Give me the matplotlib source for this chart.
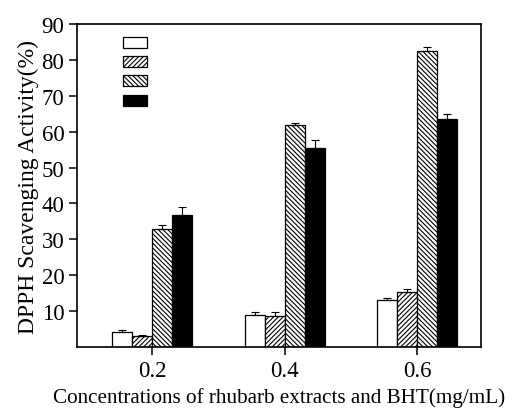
import numpy as np
import matplotlib.pyplot as plt
from matplotlib.patches import Patch

plt.rcParams['font.family'] = ['Liberation Serif', 'DejaVu Serif']
plt.rcParams['hatch.linewidth'] = 0.8

# Данные
concentrations = [0.2, 0.4, 0.6]
series_1 = [4.2, 9.0, 13.2]
series_2 = [3.0, 8.7, 15.3]
series_3 = [33.0, 62.0, 82.5]
series_4 = [36.8, 55.5, 63.5]
err_1 = [0.5, 0.9, 0.5]
err_2 = [0.4, 1.0, 0.8]
err_3 = [1.0, 0.5, 1.0]
err_4 = [2.2, 2.2, 1.5]
y_ticks = [10, 20, 30, 40, 50, 60, 70, 80, 90]

fig = plt.figure(figsize=(5.13, 4.10), dpi=100)
ax = fig.add_axes([0.150, 0.151, 0.788, 0.788])

w = 0.0302
offsets = [-1.5 * w, -0.5 * w, 0.5 * w, 1.5 * w]
styles = [
    dict(color='white', hatch=None),
    dict(color='white', hatch='///////'),
    dict(color='white', hatch='\\\\\\\\\\\\\\'),
    dict(color='black', hatch=None),
]
values = [series_1, series_2, series_3, series_4]
errors = [err_1, err_2, err_3, err_4]

handles = []
for off, st, vals, errs in zip(offsets, styles, values, errors):
    x = np.array(concentrations) + off
    ax.bar(x, vals, width=w, facecolor=st['color'], edgecolor='black',
           hatch=st['hatch'], linewidth=0.9)
    ax.errorbar(x, vals, yerr=[np.zeros(len(errs)), errs], fmt='none',
                ecolor='black', elinewidth=0.8, capsize=3, capthick=0.8)
    handles.append(Patch(facecolor=st['color'], edgecolor='black',
                         hatch=st['hatch'], linewidth=0.9))

ax.legend(handles, ['', '', '', ''], loc='upper left', frameon=False,
          bbox_to_anchor=(0.082, 1.0), handlelength=1.73, handleheight=0.86,
          labelspacing=0.43, handletextpad=0, fontsize=10)

ax.set_xlim(0.0868, 0.6966)
ax.set_ylim(0, 90)
ax.set_xticks(concentrations)
ax.set_xticklabels(['0.2', '0.4', '0.6'])
ax.set_yticks(y_ticks)
ax.tick_params(axis='both', labelsize=16.5, direction='out', length=6, width=1.1,
               pad=3)
ax.set_xlabel('Concentrations of rhubarb extracts and BHT(mg/mL)', fontsize=15.2,
              labelpad=5)
ax.set_ylabel('DPPH Scavenging Activity(%)', fontsize=17, labelpad=2)
for s in ax.spines.values():
    s.set_linewidth(1.2)

fig.savefig('out.png', dpi=100)
